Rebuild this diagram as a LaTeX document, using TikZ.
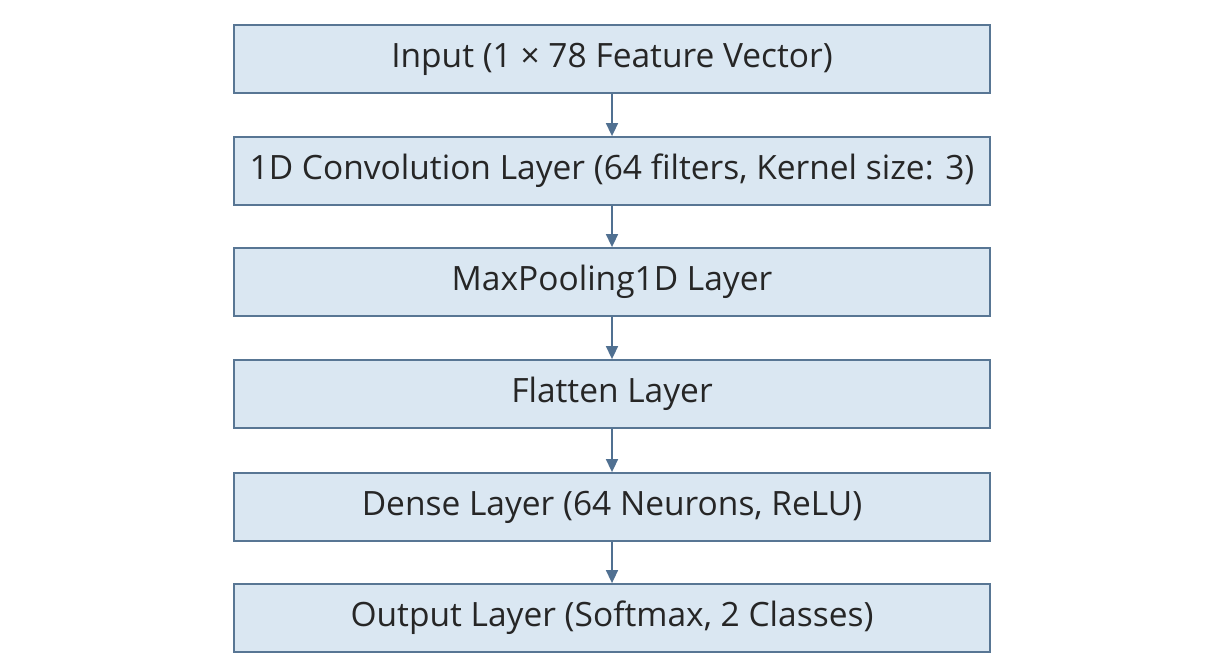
\documentclass[tikz,border=0pt]{standalone}
\usepackage{fontspec}
\setmainfont{Open Sans}
\usetikzlibrary{arrows.meta}
\definecolor{boxfill}{RGB}{218,231,242}
\definecolor{boxline}{RGB}{88,118,148}
\definecolor{arrowc}{RGB}{80,112,145}
\begin{document}
\begin{tikzpicture}[x=1pt,y=-1pt,
  layer/.style={draw=boxline, fill=boxfill, line width=1.8pt, minimum width=756pt, minimum height=68pt, inner sep=0pt, text=black!85, font=\fontsize{33.5}{38}\selectfont},
  flow/.style={draw=arrowc, line width=1.6pt, -{Triangle[width=12pt,length=13pt]}}]
\useasboundingbox[fill=white] (0,0) rectangle (1212,660);
\node[layer] (in) at (612,59) {Input (1 × 78 Feature Vector)};
\node[layer] (conv) at (612,171) {1D Convolution Layer (64 filters, Kernel size: 3)};
\node[layer] (pool) at (612,282) {MaxPooling1D Layer};
\node[layer] (flat) at (612,394) {Flatten Layer};
\node[layer] (dense) at (612,507) {Dense Layer (64 Neurons, ReLU)};
\node[layer] (out) at (612,618) {Output Layer (Softmax, 2 Classes)};
\draw[flow] (in) -- (conv);
\draw[flow] (conv) -- (pool);
\draw[flow] (pool) -- (flat);
\draw[flow] (flat) -- (dense);
\draw[flow] (dense) -- (out);
\end{tikzpicture}
\end{document}
